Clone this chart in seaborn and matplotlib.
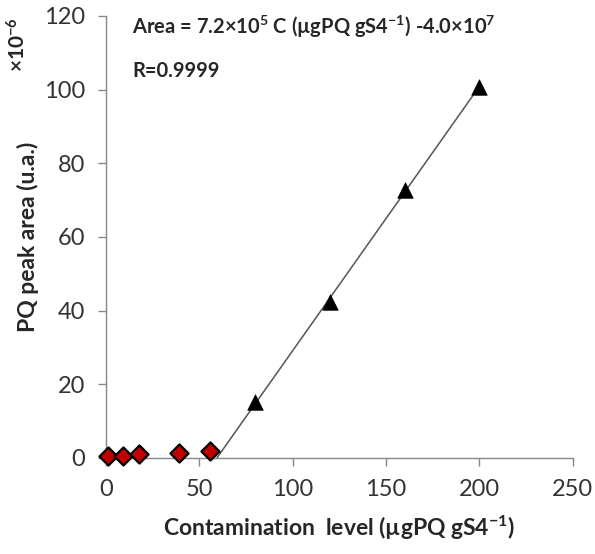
import numpy as np
import pandas as pd
import matplotlib
matplotlib.use("Agg")
import matplotlib.pyplot as plt
import seaborn as sns

# Data (peak area in units of 10^6)
low_level = [1, 9, 18, 39, 56]
low_area = [0.5, 0.5, 1.2, 1.3, 1.9]
cal_level = [80, 120, 160, 200]
cal_area = [15.2, 42.4, 72.8, 100.8]

x_ticks = [0, 50, 100, 150, 200, 250]
y_ticks = [0, 20, 40, 60, 80, 100, 120]

sns.set_style("ticks")
plt.rcParams['font.family'] = ['Lato', 'DejaVu Sans']
plt.rcParams['mathtext.fontset'] = 'custom'
plt.rcParams['mathtext.rm'] = 'Lato:bold'
plt.rcParams['mathtext.bf'] = 'Lato:bold'
plt.rcParams['mathtext.default'] = 'bf'

fig = plt.figure(figsize=(5.95, 5.54), dpi=100)
ax = fig.add_axes([0.1777, 0.1733, 0.785, 0.798])

# Linear trendline through the calibration points
slope, intercept = np.polyfit(cal_level, cal_area, 1)
x0 = -intercept / slope
fit = pd.DataFrame({"x": [x0, cal_level[-1]]})
fit["y"] = slope * fit["x"] + intercept
sns.lineplot(data=fit, x="x", y="y", color="#555555", linewidth=1.1, ax=ax, zorder=2)

low = pd.DataFrame({"level": low_level, "area": low_area})
cal = pd.DataFrame({"level": cal_level, "area": cal_area})
sns.scatterplot(data=low, x="level", y="area", marker="D", s=85, color="#C00000",
                edgecolor="black", linewidth=1.6, ax=ax, zorder=3, clip_on=False)
sns.scatterplot(data=cal, x="level", y="area", marker="^", s=125, color="black",
                edgecolor="black", linewidth=0.5, ax=ax, zorder=3, clip_on=False)

ax.set_xlim(0, 250)
ax.set_ylim(0, 120)
ax.set_xticks(x_ticks)
ax.set_yticks(y_ticks)
ax.tick_params(axis="both", labelsize=17, colors="#888888", labelcolor="#333333",
               length=6, width=1, direction="out")
ax.tick_params(axis="x", pad=9)
ax.tick_params(axis="y", pad=9)
sns.despine(ax=ax)
for side in ["left", "bottom"]:
    ax.spines[side].set_color("#888888")
    ax.spines[side].set_linewidth(1)

ax.set_xlabel("Contamination  level (µgPQ gS4$^{-1}$)", fontsize=16.5, fontweight="bold", labelpad=10)
ax.set_ylabel("PQ peak area (u.a.)", fontsize=16.5, fontweight="bold", labelpad=3)

fig.text(0.03, 0.92, "×10$^{-6}$", rotation=90, fontsize=15, fontweight="bold",
         ha="center", va="center")
fig.text(0.222, 0.952, "Area = 7.2×10$^{5}$ C (µgPQ gS4$^{-1}$) -4.0×10$^{7}$",
         fontsize=14.5, fontweight="bold", ha="left", va="center")
fig.text(0.222, 0.872, "R=0.9999", fontsize=14.5, fontweight="bold", ha="left", va="center")

fig.savefig("out.png", dpi=100)
